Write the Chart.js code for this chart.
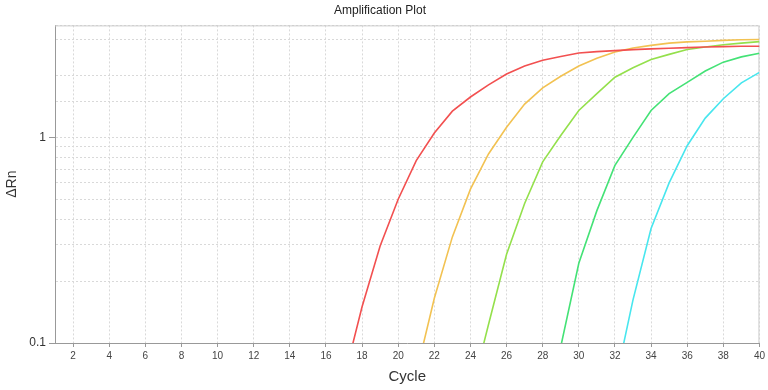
<!DOCTYPE html>
<html>
<head>
<meta charset="utf-8">
<script src="https://cdn.jsdelivr.net/npm/chart.js@4"></script>
<style>
  html, body { margin: 0; padding: 0; background: #fff; }
  #wrap { width: 768px; height: 390px; }
</style>
</head>
<body>
<div id="wrap"><canvas id="amp"></canvas></div>
<script>
// cycles 1..40
const cycles = [1, 2, 3, 4, 5, 6, 7, 8, 9, 10, 11, 12, 13, 14, 15, 16, 17, 18, 19, 20,
  21, 22, 23, 24, 25, 26, 27, 28, 29, 30, 31, 32, 33, 34, 35, 36, 37, 38, 39, 40];

// delta Rn per well (null = below the plotted range, not drawn)
const wellA = [null, null, null, null, null, null, null, null, null, null, null, null, null, null, null, null,
  0.067, 0.15, 0.296, 0.50, 0.77, 1.05, 1.34, 1.57, 1.80, 2.03, 2.22, 2.37, 2.47, 2.57,
  2.61, 2.64, 2.67, 2.69, 2.71, 2.73, 2.75, 2.76, 2.77, 2.77];
const wellB = [null, null, null, null, null, null, null, null, null, null, null, null, null, null, null, null,
  null, null, null, null, 0.071, 0.165, 0.328, 0.56, 0.83, 1.12, 1.45, 1.74, 1.98, 2.22,
  2.42, 2.60, 2.72, 2.80, 2.87, 2.91, 2.93, 2.96, 2.98, 2.99];
const wellC = [null, null, null, null, null, null, null, null, null, null, null, null, null, null, null, null,
  null, null, null, null, null, null, null, 0.055, 0.123, 0.27, 0.477, 0.76, 1.02, 1.35,
  1.63, 1.96, 2.18, 2.39, 2.53, 2.67, 2.75, 2.82, 2.87, 2.92];
const wellD = [null, null, null, null, null, null, null, null, null, null, null, null, null, null, null, null,
  null, null, null, null, null, null, null, null, null, null, null, null, 0.096, 0.244,
  0.44, 0.73, 1.0, 1.35, 1.63, 1.85, 2.10, 2.32, 2.46, 2.56];
const wellE = [null, null, null, null, null, null, null, null, null, null, null, null, null, null, null, null,
  null, null, null, null, null, null, null, null, null, null, null, null, null, null,
  null, 0.063, 0.162, 0.36, 0.60, 0.91, 1.24, 1.54, 1.84, 2.07];

const yTickLabels = [0.1, 1];

const colors = ["#f25050", "#f2c252", "#94e04c", "#44e276", "#48e6ee"];
const wells = [wellA, wellB, wellC, wellD, wellE];

const isLabelled = (v) => yTickLabels.some((t) => Math.abs(t - v) < 1e-9);

// frame on top + right of plot
const framePlugin = {
  id: "frame",
  beforeDatasetsDraw(chart) {
    const { ctx, chartArea: a } = chart;
    ctx.save();
    ctx.strokeStyle = "#cccccc";
    ctx.lineWidth = 1;
    ctx.beginPath();
    ctx.moveTo(a.left, a.top + 0.5);
    ctx.lineTo(a.right - 0.5, a.top + 0.5);
    ctx.lineTo(a.right - 0.5, a.bottom);
    ctx.stroke();
    ctx.restore();
  }
};

new Chart(document.getElementById("amp"), {
  type: "line",
  data: {
    labels: cycles,
    datasets: wells.map((w, i) => ({
      data: w,
      borderColor: colors[i],
      borderWidth: 1.6,
      pointRadius: 0,
      tension: 0,
      spanGaps: false
    }))
  },
  options: {
    responsive: true,
    maintainAspectRatio: false,
    animation: false,
    layout: { padding: { left: 0, right: 8, top: 0, bottom: 0 } },
    plugins: {
      legend: { display: false },
      tooltip: { enabled: false },
      title: {
        display: true,
        text: "Amplification Plot",
        color: "#222",
        font: { family: "'Liberation Sans', Arial, sans-serif", size: 12, weight: "normal" },
        padding: { top: 3, bottom: 8 }
      }
    },
    scales: {
      x: {
        type: "linear",
        min: 1,
        max: 40,
        afterFit(scale) { scale.height = 47; },
        border: { color: "#999", dash: [2, 2] },
        grid: { color: "#d9d9d9", tickColor: "#999", tickLength: 4, tickBorderDash: [] },
        ticks: {
          stepSize: 2,
          includeBounds: false,
          autoSkip: false,
          maxRotation: 0,
          padding: 3,
          color: "#444",
          font: { family: "'Liberation Sans', Arial, sans-serif", size: 10 }
        },
        title: {
          display: true,
          text: "Cycle",
          color: "#333",
          padding: { top: 0, bottom: 4 },
          font: { family: "'Liberation Sans', Arial, sans-serif", size: 15 }
        }
      },
      y: {
        type: "logarithmic",
        min: 0.1,
        max: 3.5,
        afterFit(scale) { scale.width = 55; },
        border: { color: "#999", dash: [2, 2] },
        grid: {
          color: "#d9d9d9",
          tickColor: (c) => (c.tick && isLabelled(c.tick.value) ? "#999" : "rgba(0,0,0,0)"),
          tickLength: 6,
          tickBorderDash: []
        },
        ticks: {
          autoSkip: false,
          padding: 3,
          color: "#333",
          font: { family: "'Liberation Sans', Arial, sans-serif", size: 12 },
          callback: (v) => (isLabelled(v) ? String(yTickLabels.find((t) => Math.abs(t - v) < 1e-9)) : "")
        },
        title: {
          display: true,
          text: "ΔRn",
          color: "#333",
          padding: { top: 4, bottom: 0 },
          font: { family: "'Liberation Sans', Arial, sans-serif", size: 14 }
        }
      }
    }
  },
  plugins: [framePlugin]
});
</script>
</body>
</html>
